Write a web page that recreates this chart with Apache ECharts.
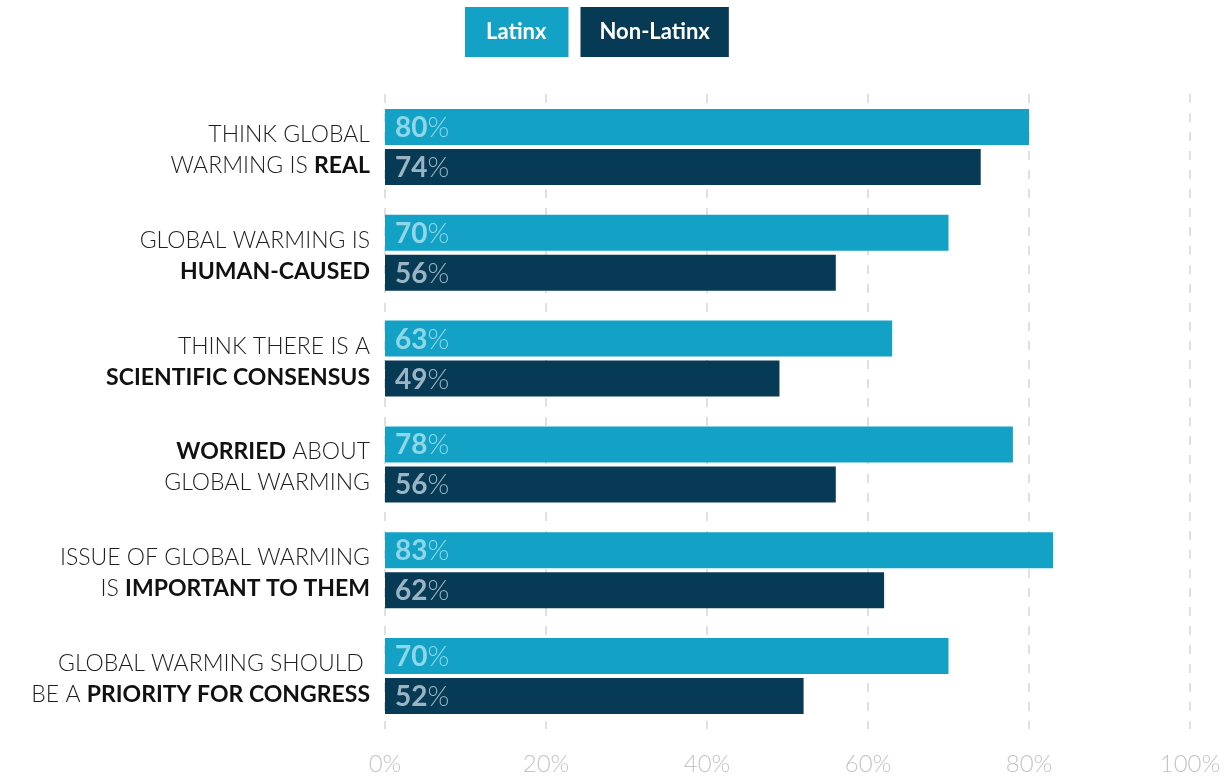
<!DOCTYPE html>
<html>
<head>
<meta charset="utf-8">
<script src="https://cdn.jsdelivr.net/npm/echarts@6/dist/echarts.min.js"></script>
<style>
  html, body { margin: 0; padding: 0; background: #fff; }
  #chart { width: 1231px; height: 776px; }
</style>
</head>
<body>
<div id="chart"></div>
<script>
// ---------- data ----------
var categories = [
  '{n|THINK GLOBAL}\n{n|WARMING IS }{b|REAL}',
  '{n|GLOBAL WARMING IS}\n{b|HUMAN-CAUSED}',
  '{n|THINK THERE IS A}\n{b|SCIENTIFIC CONSENSUS}',
  '{b|WORRIED}{n| ABOUT}\n{n|GLOBAL WARMING}',
  '{n|ISSUE OF GLOBAL WARMING}\n{n|IS }{b|IMPORTANT TO THEM}',
  '{n|GLOBAL WARMING SHOULD }\n{n|BE A }{b|PRIORITY FOR CONGRESS}'
];
var latinx    = [80, 70, 63, 78, 83, 70];
var nonLatinx = [74, 56, 49, 56, 62, 52];
var xTicks    = [0, 20, 40, 60, 80, 100];

var cLatinx = '#13a2c5';
var cNon    = '#063a55';
var font    = 'Lato, "Open Sans", sans-serif';

function barLabel(col) {
  return {
    show: true,
    position: 'insideLeft',
    offset: [5, 1],
    formatter: function (p) { return '{v|' + p.value + '}{p|%}'; },
    rich: {
      v: { color: col, fontSize: 28, fontWeight: 'bold', fontFamily: font },
      p: { color: col, fontSize: 28, fontWeight: 300, fontFamily: font }
    }
  };
}

var chart = echarts.init(document.getElementById('chart'));

chart.setOption({
  animation: false,
  textStyle: { fontFamily: font },
  legend: {
    top: 7,
    left: 460,
    padding: 0,
    itemWidth: 0,
    itemHeight: 0,
    itemGap: 7,
    icon: 'rect',
    selectedMode: false,
    data: [
      { name: 'Latinx', textStyle: { backgroundColor: cLatinx, color: '#fff', padding: [14, 22, 14, 21] } },
      { name: 'Non-Latinx', textStyle: { backgroundColor: cNon, color: '#fff', padding: [14, 19, 14, 19] } }
    ],
    textStyle: { fontSize: 22, lineHeight: 22, fontWeight: 'bold', fontFamily: font }
  },
  grid: { left: 385, right: 41, top: 94, bottom: 45, containLabel: false },
  xAxis: {
    type: 'value',
    min: 0,
    max: 100,
    interval: 20,
    axisLine: { show: false },
    axisTick: { show: false },
    axisLabel: {
      color: '#c4c4c4',
      fontSize: 24,
      fontWeight: 300,
      margin: 23,
      formatter: function (v) { return xTicks.indexOf(v) >= 0 ? v + '%' : ''; }
    },
    splitLine: { show: true, lineStyle: { color: '#d6d6d6', width: 1.5, type: [9, 10] } }
  },
  yAxis: {
    type: 'category',
    inverse: true,
    data: categories,
    axisLine: { show: false },
    axisTick: { show: false },
    axisLabel: {
      margin: 15,
      align: 'right',
      lineHeight: 31,
      padding: [6, 0, 0, 0],
      rich: {
        n: { fontSize: 23, color: '#1e1e1e', fontWeight: 300, fontFamily: font, lineHeight: 31 },
        b: { fontSize: 23, color: '#111', fontWeight: 'bold', fontFamily: font, lineHeight: 31 }
      }
    }
  },
  series: [
    {
      name: 'Latinx',
      type: 'bar',
      data: latinx,
      barWidth: 36,
      barGap: '11%',
      itemStyle: { color: cLatinx },
      label: barLabel('#8fd7e8')
    },
    {
      name: 'Non-Latinx',
      type: 'bar',
      data: nonLatinx,
      barWidth: 36,
      barGap: '11%',
      itemStyle: { color: cNon },
      label: barLabel('#9bb4c3')
    }
  ]
});

window.addEventListener('resize', function () { chart.resize(); });
</script>
</body>
</html>
